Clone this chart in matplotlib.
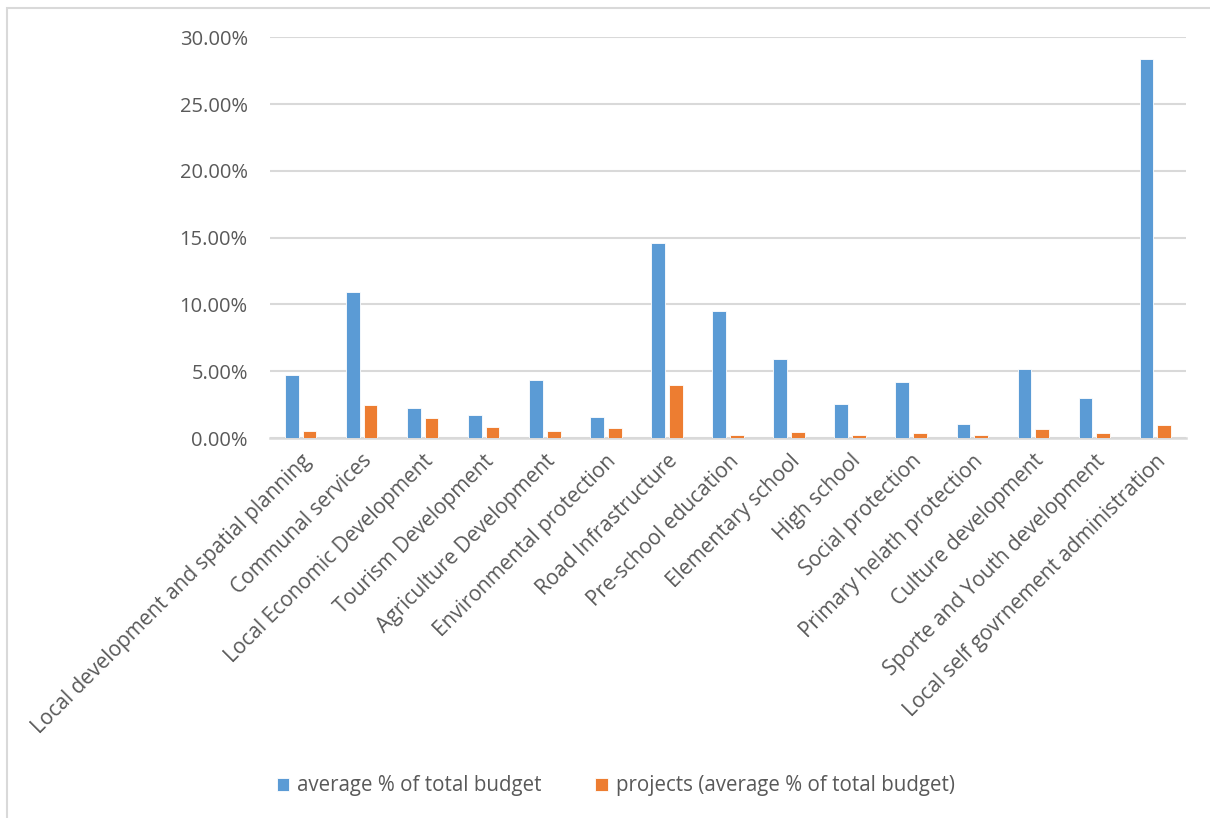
import matplotlib
matplotlib.use("Agg")
import matplotlib.pyplot as plt
from matplotlib.ticker import FuncFormatter, MultipleLocator
from matplotlib.patches import Rectangle
import numpy as np

categories = [
    "Local development and spatial planning",
    "Communal services",
    "Local Economic Development",
    "Tourism Development",
    "Agriculture Development",
    "Environmental protection",
    "Road Infrastructure",
    "Pre-school education",
    "Elementary school",
    "High school",
    "Social protection",
    "Primary helath protection",
    "Culture development",
    "Sporte and Youth development",
    "Local self govrnement administration",
]
avg_budget = [4.72, 10.95, 2.26, 1.69, 4.35, 1.59, 14.57, 9.50, 5.90, 2.54, 4.18, 1.04, 5.15, 3.03, 28.40]
projects = [0.54, 2.46, 1.51, 0.84, 0.54, 0.75, 3.98, 0.20, 0.45, 0.25, 0.37, 0.25, 0.64, 0.37, 0.94]
series_names = ["average % of total budget", "projects (average % of total budget)"]

BLUE = "#5B9BD5"
ORANGE = "#ED7D31"
GRID = "#D9D9D9"
TEXT = "#595959"
FONT = "Open Sans"

fig = plt.figure(figsize=(12.1, 8.18), dpi=100)
fig.patches.append(Rectangle((7/1210, -0.01), 1.2, 1 - 8/818 + 0.01, transform=fig.transFigure,
                             fill=False, edgecolor="#D9D9D9", linewidth=1.5))
ax = fig.add_axes([270/1210, 1 - 438/818, (1186 - 270)/1210, (438 - 37.3)/818])

x = np.arange(len(categories))
w = 0.225
gap = 0.065
vals_a = np.array(avg_budget) / 100
vals_b = np.array(projects) / 100
ax.bar(x - (w + gap)/2, vals_a, width=w, color=BLUE, edgecolor="white", linewidth=0.6, label=series_names[0], zorder=3)
ax.bar(x + (w + gap)/2, vals_b, width=w, color=ORANGE, edgecolor="white", linewidth=0.6, label=series_names[1], zorder=3)

ax.set_xlim(-0.5, len(categories) - 0.5)
ax.set_ylim(0, 0.30)
ax.yaxis.set_major_locator(MultipleLocator(0.05))
ax.yaxis.set_major_formatter(FuncFormatter(lambda v, p: f"{v*100:.2f}%"))
ax.grid(axis="y", color=GRID, linewidth=1.5, zorder=0)
ax.set_axisbelow(True)
for s in ["top", "right", "left"]:
    ax.spines[s].set_visible(False)
ax.spines["bottom"].set_color(GRID)
ax.spines["bottom"].set_linewidth(1.8)
ax.tick_params(axis="both", length=0)
ax.tick_params(axis="y", pad=16, labelsize=14.5, labelcolor=TEXT)
for lab in ax.get_yticklabels():
    lab.set_fontfamily(FONT)

ax.set_xticks(x)
ax.set_xticklabels(categories, rotation=45, ha="right", va="top", rotation_mode="anchor",
                   fontsize=15, color=TEXT, fontfamily=FONT)
ax.tick_params(axis="x", pad=9)

leg = fig.legend(loc="center", bbox_to_anchor=(0.509, 1 - 786/818), ncol=2, frameon=False,
                 handlelength=0.6, handleheight=0.6, handletextpad=0.4, columnspacing=2.6,
                 prop={"family": FONT, "size": 14.8})
for t in leg.get_texts():
    t.set_color(TEXT)

fig.savefig("out.png", dpi=100)
